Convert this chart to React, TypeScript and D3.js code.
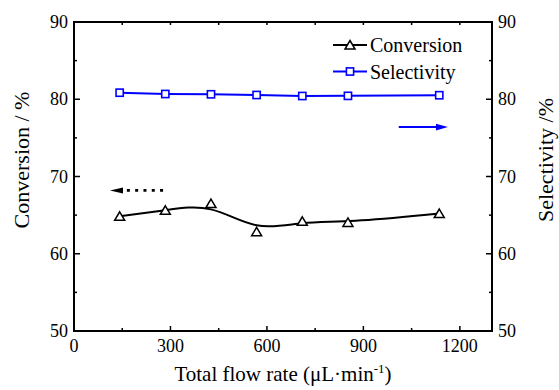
import React from "react";
import * as d3 from "d3";

const flowRates = [142, 284, 426, 568, 710, 852, 1136];
const conversion = [64.85, 65.62, 66.5, 62.84, 64.2, 64.05, 65.2];
const selectivity = [80.85, 80.68, 80.64, 80.55, 80.42, 80.44, 80.52];
const xTicks = [0, 300, 600, 900, 1200];
const yTicks = [50, 60, 70, 80, 90];
const legendLabels = ["Conversion", "Selectivity"];
// annotation arrows in data units: [xStart, xEnd, y]
const convArrow = [277, 112, 68.2];
const selArrow = [1010, 1163, 76.4];

const W = 559, H = 390;
const M = { left: 74, right: 492, top: 22, bottom: 331 };
const FONT = "Liberation Serif, Times New Roman, DejaVu Serif, serif";
const BLUE = "#0000FF";

export default function App() {
  const x = d3.scaleLinear().domain([0, 1300]).range([M.left, M.right]);
  const y = d3.scaleLinear().domain([50, 90]).range([M.bottom, M.top]);
  const yR = d3.scaleLinear().domain([50, 90]).range([M.bottom, M.top]);

  const convLine = d3
    .line<number>()
    .x((_, i) => x(flowRates[i]))
    .y((d) => y(d))
    .curve(d3.curveBasis);
  const selLine = d3
    .line<number>()
    .x((_, i) => x(flowRates[i]))
    .y((d) => yR(d));

  const xMinor = d3.range(0, 1301, 150);
  const yMinor = d3.range(50, 91, 5);

  const tri = "M0,-4.5 L5,4 L-5,4 Z";
  const ts = { fontFamily: FONT };

  return (
    <svg
      width={W}
      height={H}
      style={{ position: "absolute", left: 0, top: 0, background: "#fff", fontFamily: FONT }}
    >
      <rect width={W} height={H} fill="#fff" />
      <rect
        x={M.left}
        y={M.top}
        width={M.right - M.left}
        height={M.bottom - M.top}
        fill="none"
        stroke="#000"
        strokeWidth={2}
      />
      {xMinor.map((v) => {
        const major = v % 300 === 0;
        return (
          <g key={"xb" + v}>
            <line x1={x(v)} x2={x(v)} y1={M.bottom} y2={M.bottom - (major ? 5 : 3)} stroke="#000" strokeWidth={1.5} />
            <line x1={x(v)} x2={x(v)} y1={M.top} y2={M.top + 3} stroke="#000" strokeWidth={1.5} />
          </g>
        );
      })}
      {xTicks.map((v) => (
        <text key={"xl" + v} x={x(v)} y={352} fontSize={18} textAnchor="middle" style={ts}>
          {v}
        </text>
      ))}
      {yMinor.map((v) => {
        const major = v % 10 === 0;
        const len = major ? 6 : 3;
        return (
          <g key={"y" + v}>
            <line x1={M.left} x2={M.left + len} y1={y(v)} y2={y(v)} stroke="#000" strokeWidth={1.5} />
            <line x1={M.right} x2={M.right - len} y1={yR(v)} y2={yR(v)} stroke="#000" strokeWidth={1.5} />
          </g>
        );
      })}
      {yTicks.map((v) => (
        <g key={"yl" + v}>
          <text x={68} y={y(v) + 6} fontSize={18} textAnchor="end" style={ts}>
            {v}
          </text>
          <text x={498} y={yR(v) + 6} fontSize={18} textAnchor="start" style={ts}>
            {v}
          </text>
        </g>
      ))}
      <text x={283} y={381} fontSize={21} textAnchor="middle" style={ts}>
        Total flow rate (μL·min
        <tspan dy={-8} fontSize={13}>-1</tspan>
        <tspan dy={8}>)</tspan>
      </text>
      <text transform={`translate(29,160) rotate(-90)`} fontSize={22} textAnchor="middle" style={ts}>
        Conversion / %
      </text>
      <text transform={`translate(553,160) rotate(-90)`} fontSize={22} textAnchor="middle" style={ts}>
        Selectivity /%
      </text>

      <path d={convLine(conversion) || ""} fill="none" stroke="#000" strokeWidth={2} />
      {conversion.map((v, i) => (
        <path
          key={"c" + i}
          d={tri}
          transform={`translate(${x(flowRates[i])},${y(v)})`}
          fill="#fff"
          stroke="#000"
          strokeWidth={1.5}
        />
      ))}
      <path d={selLine(selectivity) || ""} fill="none" stroke={BLUE} strokeWidth={2} />
      {selectivity.map((v, i) => (
        <rect
          key={"s" + i}
          x={x(flowRates[i]) - 3.6}
          y={yR(v) - 3.6}
          width={7.2}
          height={7.2}
          fill="#fff"
          stroke={BLUE}
          strokeWidth={1.6}
        />
      ))}

      <line
        x1={x(convArrow[0])}
        x2={x(convArrow[1]) + 14}
        y1={y(convArrow[2])}
        y2={y(convArrow[2])}
        stroke="#000"
        strokeWidth={2.6}
        strokeDasharray="3,5.3"
      />
      <path
        d={`M${x(convArrow[1])},${y(convArrow[2])} L${x(convArrow[1]) + 13},${y(convArrow[2]) - 3} L${x(convArrow[1]) + 13},${y(convArrow[2]) + 3} Z`}
        fill="#000"
      />
      <line
        x1={x(selArrow[0])}
        x2={x(selArrow[1]) - 10}
        y1={yR(selArrow[2])}
        y2={yR(selArrow[2])}
        stroke={BLUE}
        strokeWidth={2}
      />
      <path
        d={`M${x(selArrow[1])},${yR(selArrow[2])} L${x(selArrow[1]) - 12},${yR(selArrow[2]) - 3.4} L${x(selArrow[1]) - 12},${yR(selArrow[2]) + 3.4} Z`}
        fill={BLUE}
      />

      {legendLabels.map((lab, i) => {
        const ly = 45 + i * 26.5;
        const col = i === 0 ? "#000" : BLUE;
        return (
          <g key={lab}>
            <line x1={333} x2={367} y1={ly} y2={ly} stroke={col} strokeWidth={2} />
            {i === 0 ? (
              <path d={tri} transform={`translate(350,${ly})`} fill="#fff" stroke={col} strokeWidth={1.5} />
            ) : (
              <rect x={346.4} y={ly - 3.6} width={7.2} height={7.2} fill="#fff" stroke={col} strokeWidth={1.6} />
            )}
            <text x={370} y={ly + 7} fontSize={20} style={ts}>
              {lab}
            </text>
          </g>
        );
      })}
    </svg>
  );
}
